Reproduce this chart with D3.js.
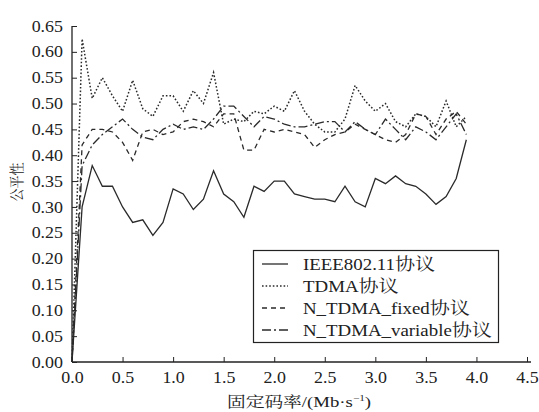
<!DOCTYPE html>
<html><head><meta charset="utf-8">
<script src="https://cdn.jsdelivr.net/npm/d3@7"></script>
<style>body{margin:0;background:#fff}svg{display:block}
svg text{font-family:"Liberation Serif","Noto Serif CJK SC",serif !important;}</style>
</head><body>
<script>
const xValues = d3.range(0, 40).map(i => +(i * 0.1).toFixed(1));
const ieee = [0.00,0.30,0.38,0.34,0.34,0.30,0.27,0.275,0.245,0.27,0.335,0.325,0.295,0.315,0.37,0.325,0.31,0.28,0.34,0.33,0.35,0.35,0.325,0.32,0.315,0.315,0.31,0.34,0.31,0.30,0.355,0.345,0.36,0.345,0.34,0.325,0.305,0.32,0.355,0.43];
const tdma = [0.00,0.625,0.51,0.55,0.515,0.485,0.545,0.49,0.475,0.515,0.515,0.485,0.525,0.50,0.56,0.46,0.47,0.465,0.485,0.48,0.495,0.485,0.525,0.485,0.46,0.445,0.445,0.47,0.535,0.505,0.485,0.50,0.465,0.455,0.48,0.475,0.455,0.505,0.455,0.475];
const fixedS = [0.00,0.42,0.45,0.45,0.445,0.425,0.39,0.445,0.45,0.44,0.445,0.465,0.47,0.465,0.455,0.48,0.48,0.41,0.41,0.45,0.445,0.45,0.445,0.44,0.415,0.43,0.44,0.445,0.46,0.45,0.44,0.43,0.425,0.44,0.48,0.475,0.44,0.47,0.485,0.46];
const variableS = [0.00,0.38,0.42,0.44,0.455,0.47,0.45,0.435,0.43,0.45,0.46,0.45,0.455,0.45,0.47,0.495,0.495,0.475,0.455,0.475,0.47,0.46,0.455,0.455,0.46,0.465,0.465,0.445,0.465,0.45,0.44,0.47,0.45,0.43,0.455,0.445,0.43,0.455,0.48,0.44];
const seriesLatin = ["IEEE802.11","TDMA","N_TDMA_fixed","N_TDMA_variable"];
const seriesSuffix = "协议";
const xTicks = [0,0.5,1,1.5,2,2.5,3,3.5,4,4.5];
const yTicks = d3.range(0, 14).map(i => +(i * 0.05).toFixed(2));

const W = 539, H = 412;
const ink = "#222";
const svg = d3.select("body").append("svg").attr("width", W).attr("height", H);
const x = d3.scaleLinear().domain([0, 4.5]).range([72, 527]);
const y = d3.scaleLinear().domain([0, 0.65]).range([362, 26]);

// stretch text horizontally around its own anchor
function stretch(sel, sx) {
  sel.attr("transform", function () {
    const ax = +(this.getAttribute("x") || 0);
    return `translate(${ax * (1 - sx)},0) scale(${sx},1)`;
  });
}

// axes
const xAxis = d3.axisBottom(x).tickValues(xTicks).tickSizeInner(-5).tickSizeOuter(0).tickPadding(10).tickFormat(d3.format(".1f"));
const gx = svg.append("g").attr("transform", `translate(0,${y(0)})`).call(xAxis);
gx.select(".domain").remove();
svg.append("line").attr("x1", 72).attr("x2", 531).attr("y1", y(0)).attr("y2", y(0)).attr("stroke", ink).attr("stroke-width", 1.3);
const yAxis = d3.axisLeft(y).tickValues(yTicks).tickSizeInner(-5).tickSizeOuter(0).tickPadding(9).tickFormat(d3.format(".2f"));
const gy = svg.append("g").attr("transform", `translate(${x(0)},0)`).call(yAxis);
gy.select(".domain").remove();
svg.append("line").attr("x1", x(0)).attr("x2", x(0)).attr("y1", y(0.65)).attr("y2", y(0)).attr("stroke", ink).attr("stroke-width", 1.3);
[gx, gy].forEach(g => {
  g.attr("font-family", null).attr("font-size", null);
  g.selectAll(".tick line").attr("stroke", ink).attr("stroke-width", 1);
  g.selectAll(".tick text").attr("fill", ink).style("font-size", "16px").call(stretch, 1.12);
});
gx.selectAll(".tick text").attr("dy", "0.71em");

// lines
const styles = [null, "1.6,2", "5,4", "9,3,2,3"];
const allSeries = [ieee, tdma, fixedS, variableS];
const line = d3.line().x((d, i) => x(xValues[i])).y(d => y(d));
allSeries.forEach((s, k) => {
  svg.append("path").datum(s).attr("d", line).attr("fill", "none")
    .attr("stroke", "#2a2a2a").attr("stroke-width", k === 1 ? 1.5 : 1.3)
    .attr("stroke-dasharray", styles[k]);
});

// legend
const lg = svg.append("g");
lg.append("rect").attr("x", 253.5).attr("y", 250.5).attr("width", 245).attr("height", 92)
  .attr("fill", "#fff").attr("stroke", ink).attr("stroke-width", 1.2);
const rowsY = [264, 286, 308, 330];
seriesLatin.forEach((n, k) => {
  lg.append("line").attr("x1", 262).attr("x2", 288).attr("y1", rowsY[k]).attr("y2", rowsY[k])
    .attr("stroke", "#2a2a2a").attr("stroke-width", k === 1 ? 1.5 : 1.3).attr("stroke-dasharray", styles[k]);
  const t = lg.append("text").attr("x", 303).attr("y", rowsY[k]).attr("dy", "0.35em")
    .attr("fill", ink).style("font-size", "16px");
  t.append("tspan").text(n);
  t.append("tspan").style("font-size", "17px").text(seriesSuffix);
  t.call(stretch, 1.18);
});

// axis titles
const xt = svg.append("text").attr("x", 299).attr("y", 407).attr("text-anchor", "middle")
  .attr("fill", ink).style("font-size", "15px");
xt.append("tspan").text("固定码率/(Mb·s");
xt.append("tspan").attr("dy", -6).style("font-size", "9px").text("−1");
xt.append("tspan").attr("dy", 6).text(")");
xt.call(stretch, 1.25);
svg.append("text").attr("transform", "translate(17,182) scale(1.15,1) rotate(-90)").attr("text-anchor", "middle")
  .attr("dy", "0.35em").attr("fill", ink).style("font-size", "13px").text("公平性");
</script>
</body></html>
